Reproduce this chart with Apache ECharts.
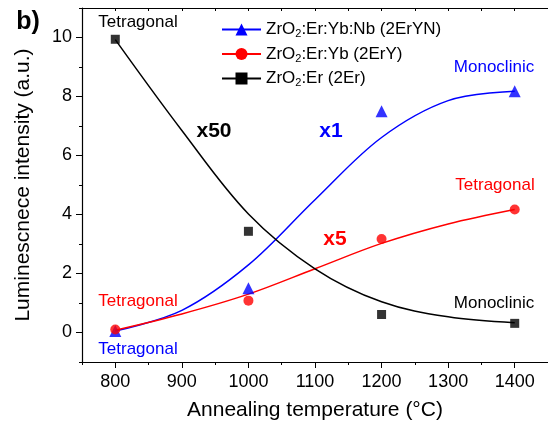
<!DOCTYPE html>
<html>
<head>
<meta charset="utf-8">
<script src="https://cdn.jsdelivr.net/npm/echarts@6/dist/echarts.min.js"></script>
<style>
  html, body { margin: 0; padding: 0; background: #fff; }
  #chart { width: 548px; height: 429px; }
</style>
</head>
<body>
<div id="chart"></div>
<script>
// measured points
const temps = [800, 1000, 1200, 1400];
const erYbNb = [0.05, 1.5, 7.5, 8.18];   // 2ErYN, x1
const erYb = [0.1, 1.08, 3.17, 4.17];    // 2ErY, x5
const er = [9.94, 3.43, 0.61, 0.31];     // 2Er, x50

// fitted curves
const fitTempsYN = [800, 900, 1000, 1100, 1200, 1300, 1400];
const fitErYbNb = [0.05, 0.75, 2.29, 4.5, 6.61, 7.86, 8.18];
const fitTempsY = [800, 900, 1000, 1100, 1200, 1300, 1400];
const fitErYb = [0.08, 0.63, 1.3, 2.16, 3.02, 3.68, 4.17];
const fitTempsEr = [800, 900, 1000, 1100, 1200, 1300, 1400];
const fitEr = [9.93, 6.85, 4.02, 2.16, 1.04, 0.53, 0.33];

// tick positions (major ones are labelled)
const xMajor = [800, 900, 1000, 1100, 1200, 1300, 1400];
const xMinor = [750, 850, 950, 1050, 1150, 1250, 1350, 1450];
const yMajor = [0, 2, 4, 6, 8, 10];
const yMinor = [-1, 1, 3, 5, 7, 9, 11];

const names = ['ZrO2:Er:Yb:Nb (2ErYN)', 'ZrO2:Er:Yb (2ErY)', 'ZrO2:Er (2Er)'];
const FONT = '"Liberation Sans", Arial, sans-serif';

const zip = (xs, ys) => xs.map((x, i) => [x, ys[i]]);
const xAll = xMajor.concat(xMinor).sort((a, b) => a - b);
const yAll = yMajor.concat(yMinor).sort((a, b) => a - b);

function fit(name, xs, ys, color, symbol) {
  return {
    name: name,
    type: 'line',
    data: zip(xs, ys),
    smooth: 0.35,
    symbol: symbol,
    showSymbol: false,
    color: color,
    lineStyle: { color: color, width: 1.5 },
    silent: true,
    z: 2
  };
}

function pts(ys, color, symbol, size) {
  return {
    name: 'pts-' + color,
    type: 'scatter',
    data: zip(temps, ys),
    symbol: symbol,
    symbolSize: size,
    itemStyle: { color: color },
    silent: true,
    z: 3
  };
}

function note(text, x, y, color, size, bold) {
  return {
    type: 'text',
    x: x,
    y: y,
    style: {
      text: text,
      fill: color,
      font: (bold ? 'bold ' : '') + size + 'px ' + FONT,
      align: 'center',
      verticalAlign: 'middle'
    }
  };
}

// category axes spanning the same range, used only for tick marks
function tickAxis(all, keep, len, pos, inside, line) {
  return {
    type: 'category',
    data: all.map(String),
    boundaryGap: false,
    position: pos,
    axisLine: { show: line, onZero: false, lineStyle: { color: '#000', width: 1.2 } },
    axisTick: {
      show: true, inside: inside, length: len,
      interval: (i) => keep.indexOf(all[i]) >= 0,
      lineStyle: { color: '#000', width: 1 }
    },
    axisLabel: { show: false },
    splitLine: { show: false }
  };
}

const chart = echarts.init(document.getElementById('chart'), null, { renderer: 'canvas' });

chart.setOption({
  animation: false,
  textStyle: { fontFamily: FONT },
  grid: { left: 82, top: 8, right: -3, bottom: 67 },
  legend: {
    data: names,
    orient: 'vertical',
    left: 216,
    top: 16,
    itemWidth: 39,
    itemHeight: 15,
    itemGap: 6,
    formatter: function (n) {
      return '{a|ZrO}{s|2}{a|' + n.slice(4) + '}';
    },
    textStyle: {
      color: '#000',
      rich: {
        a: { fontSize: 17, lineHeight: 20, fontFamily: FONT, color: '#000' },
        s: { fontSize: 11, lineHeight: 6, verticalAlign: 'bottom', fontFamily: FONT, color: '#000' }
      }
    }
  },
  xAxis: [
    {
      type: 'value', min: 750, max: 1450,
      name: 'Annealing temperature (°C)',
      nameLocation: 'middle',
      nameGap: 38,
      nameTextStyle: { fontSize: 21, color: '#000', fontFamily: FONT },
      axisLine: { show: true, onZero: false, lineStyle: { color: '#000', width: 1.2 } },
      axisTick: { show: false },
      axisLabel: {
        customValues: xMajor, fontSize: 18, color: '#000', margin: 11, fontFamily: FONT,
        formatter: v => String(v)
      },
      splitLine: { show: false }
    },
    tickAxis(xAll, xMajor, 6, 'bottom', false, false),
    tickAxis(xAll, xMinor, 3, 'bottom', false, false),
    tickAxis(xAll, xAll, 3, 'top', true, true)
  ],
  yAxis: [
    {
      type: 'value', min: -1, max: 11,
      name: 'Luminescnece intensity (a.u.)',
      nameLocation: 'middle',
      nameGap: 48,
      nameTextStyle: { fontSize: 21, color: '#000', fontFamily: FONT },
      axisLine: { show: true, onZero: false, lineStyle: { color: '#000', width: 1.2 } },
      axisTick: { show: false },
      axisLabel: {
        customValues: yMajor, fontSize: 18, color: '#000', margin: 10, fontFamily: FONT,
        formatter: v => String(v)
      },
      splitLine: { show: false }
    },
    tickAxis(yAll, yMajor, 6, 'left', false, false),
    tickAxis(yAll, yMinor, 3, 'left', false, false)
  ],
  series: [
    fit(names[0], fitTempsYN, fitErYbNb, '#0000ff', 'triangle'),
    fit(names[1], fitTempsY, fitErYb, '#ff0000', 'circle'),
    fit(names[2], fitTempsEr, fitEr, '#000000', 'rect'),
    pts(erYbNb, '#0000ff', 'triangle', 12),
    pts(erYb, '#ff0000', 'circle', 10),
    pts(er, '#000000', 'rect', 9)
  ],
  graphic: [
    note('b)', 28, 22, '#000', 25, true),
    note('Tetragonal', 138, 22, '#000', 17, false),
    note('x50', 214, 131, '#000', 21, true),
    note('x1', 331, 131, '#0000ff', 21, true),
    note('x5', 335, 239, '#ff0000', 21, true),
    note('Monoclinic', 494, 67, '#0000ff', 17, false),
    note('Tetragonal', 495, 185, '#ff0000', 17, false),
    note('Monoclinic', 494, 303, '#000', 17, false),
    note('Tetragonal', 138, 301, '#ff0000', 17, false),
    note('Tetragonal', 138, 349, '#0000ff', 17, false)
  ]
});
</script>
</body>
</html>
